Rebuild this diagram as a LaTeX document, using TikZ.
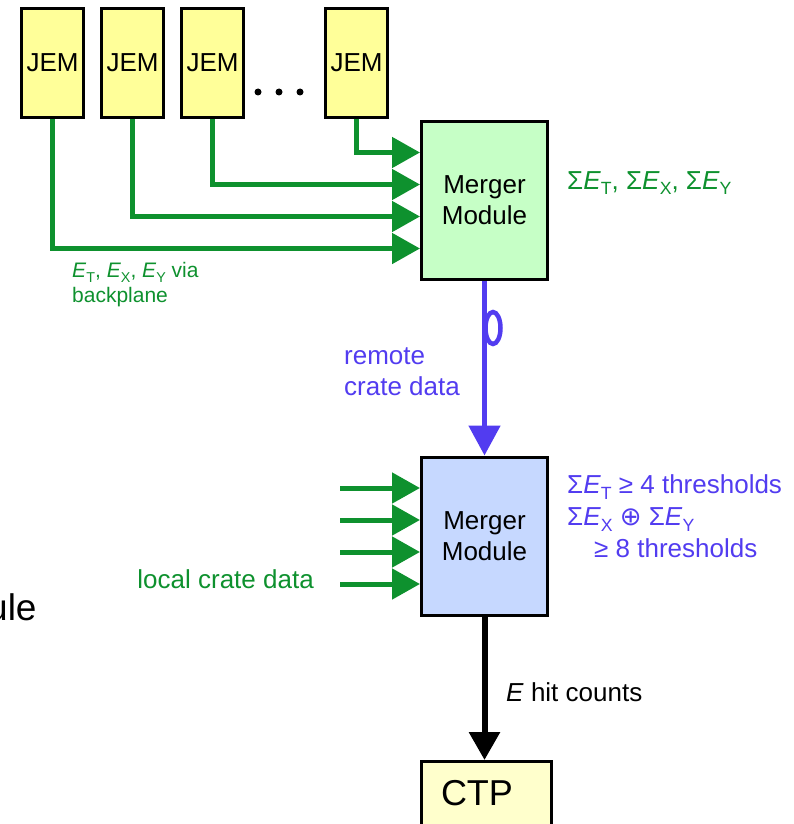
\documentclass[tikz,border=0pt]{standalone}
\usepackage{fontspec}
\setmainfont{Liberation Sans}
\newfontfamily\dvs{DejaVu Sans}
\usetikzlibrary{arrows.meta}
\definecolor{ggreen}{RGB}{14,145,46}
\definecolor{bblue}{RGB}{82,60,240}
\definecolor{jemfill}{RGB}{255,255,153}
\definecolor{mgfill}{RGB}{198,255,198}
\definecolor{mbfill}{RGB}{198,216,255}
\definecolor{ctpfill}{RGB}{255,255,204}
\newcommand\lsub[1]{\raisebox{-0.22em}{\scalebox{0.68}{#1}}}
\newcommand\EE{\textit{E}}
\tikzset{
  box/.style={draw=black, line width=3pt, inner sep=0pt, align=center,
    font=\fontsize{26}{31}\selectfont},
  jem/.style={box, fill=jemfill, minimum width=62pt, minimum height=109pt},
  merger/.style={box, minimum width=126pt, minimum height=158pt},
  txt/.style={inner sep=0pt, align=left, font=\fontsize{26}{31}\selectfont},
  smalltxt/.style={inner sep=0pt, align=left, font=\fontsize{21}{25}\selectfont},
  garrow/.style={draw=ggreen, line width=5pt, -{Triangle[length=28pt,width=30pt]}},
  barrow/.style={draw=bblue, line width=5pt, -{Triangle[length=30pt,width=31pt]}},
  karrow/.style={draw=black, line width=6pt, -{Triangle[length=28pt,width=30pt]}},
}
\begin{document}
\begin{tikzpicture}[x=1pt,y=-1pt]
\useasboundingbox (0,0) rectangle (794,824);
\clip (0,0) rectangle (794,824);

% JEM boxes
\node[jem] (jem1) at (52.5,63) {JEM};
\node[jem] (jem2) at (132.5,63) {JEM};
\node[jem] (jem3) at (212.5,63) {JEM};
\node[jem] (jem4) at (356.5,63) {JEM};
\fill (258,92) circle (3.5pt) (279,92) circle (3.5pt) (300,92) circle (3.5pt);

% Merger modules
\node[merger, fill=mgfill] (m1) at (484.5,200.5) {Merger\\Module};
\node[merger, fill=mbfill] (m2) at (484.5,536) {Merger\\Module};

% CTP
\node[box, fill=ctpfill, anchor=north west, minimum width=130pt, minimum height=64pt,
      inner xsep=19.5pt, text width=91pt, align=left,
      font=\fontsize{36}{40}\selectfont] (ctp) at (420,760) {CTP};

% JEM -> merger 1
\draw[garrow] (jem4.south) |- ([yshift=48pt]m1.west);
\draw[garrow] (jem3.south) |- ([yshift=16pt]m1.west);
\draw[garrow] (jem2.south) |- ([yshift=-16pt]m1.west);
\draw[garrow] (jem1.south) |- ([yshift=-48pt]m1.west);

% local inputs -> merger 2
\coordinate (in1) at (340,488);
\coordinate (in2) at (340,520);
\coordinate (in3) at (340,552);
\coordinate (in4) at (340,584);
\draw[garrow] (in1) -- (in1 -| m2.west);
\draw[garrow] (in2) -- (in2 -| m2.west);
\draw[garrow] (in3) -- (in3 -| m2.west);
\draw[garrow] (in4) -- (in4 -| m2.west);

% remote data
\draw[barrow] (m1.south) -- (m2.north);
\draw[bblue, line width=4.5pt] (493,328) ellipse [x radius=7.5pt, y radius=16pt];

% hit counts
\draw[karrow] (m2.south) -- (ctp.north -| m2.south);

% labels
\node[txt, text=ggreen, anchor=west] (sumlbl) at (567,183)
  {Σ\EE\lsub{T}, Σ\EE\lsub{X}, Σ\EE\lsub{Y}};
\node[smalltxt, text=ggreen, anchor=west] (bplbl) at (72,285)
  {\EE\lsub{T}, \EE\lsub{X}, \EE\lsub{Y} via\\backplane};
\node[txt, text=bblue, anchor=west] (remlbl) at (344,372) {remote\\crate data};
\node[txt, text=ggreen, anchor=east] (loclbl) at (314,579) {local crate data};
\node[txt, text=bblue, anchor=west, font=\fontsize{26}{32}\selectfont] (thrlbl) at (567,516)
  {Σ\EE\lsub{T} ≥ 4 thresholds\\Σ\EE\lsub{X} {\dvs ⊕} Σ\EE\lsub{Y}\\\hspace*{27pt}≥ 8 thresholds};
\node[txt, anchor=west] (hitlbl) at (506,692) {\EE{} hit counts};
\node[inner sep=0pt, anchor=base west, font=\fontsize{37}{40}\selectfont] (ule) at (-13,620) {ule};
\end{tikzpicture}
\end{document}
